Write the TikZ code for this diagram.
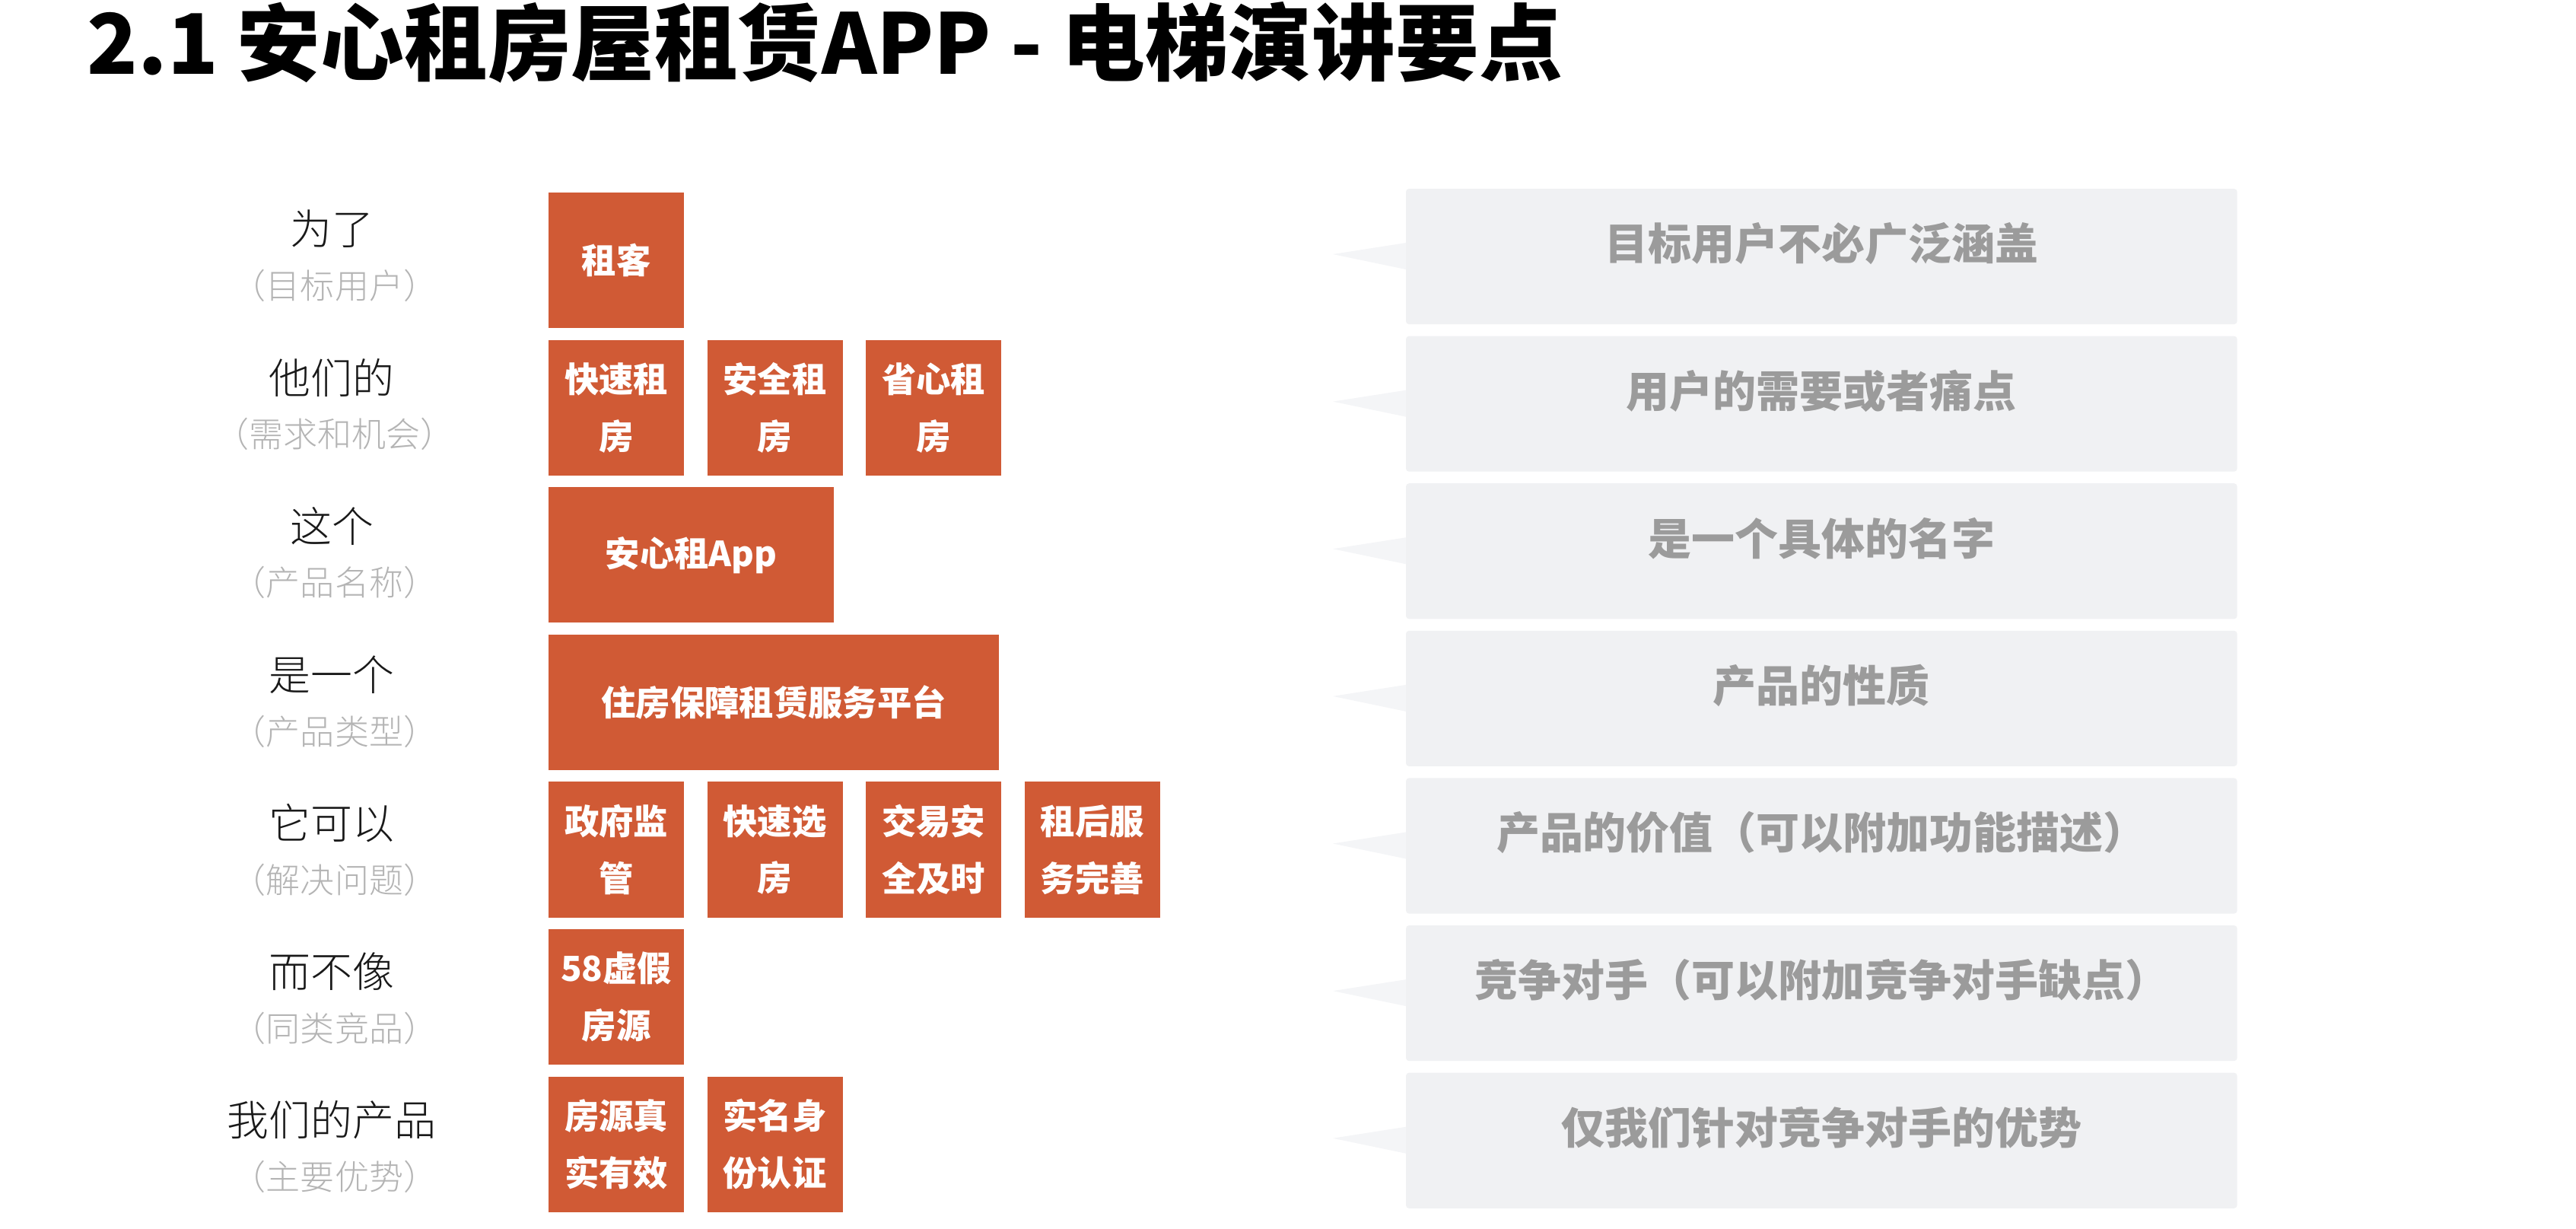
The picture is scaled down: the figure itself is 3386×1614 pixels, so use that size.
\documentclass[tikz,border=0pt]{standalone}
\usepackage{fontspec}
\setmainfont{Noto Sans CJK SC}
\newfontfamily\thincjk{Noto Sans CJK SC Light}
\usetikzlibrary{positioning, calc}
\definecolor{brick}{HTML}{D05A35}
\definecolor{panel}{HTML}{F0F1F3}
\definecolor{hint}{HTML}{9B9B9B}
\tikzstyle{tag} = [rectangle,
minimum width=1.78cm,
minimum height=1.78cm,
inner sep=0pt, outer sep=0pt,
text centered, align=center,
fill=brick, text=white,
font=\bfseries\fontsize{12.9pt}{21.3pt}\selectfont]
\tikzstyle{panelbox} = [rectangle, rounded corners=0.04cm,
minimum width=10.92cm,
minimum height=1.78cm,
inner sep=0pt, outer sep=0pt,
fill=panel]
\tikzstyle{note} = [text=hint, inner sep=0pt,
font=\bfseries\fontsize{16.2pt}{18pt}\selectfont]
\tikzstyle{cue} = [text=black!90, inner sep=0pt,
font=\thincjk\fontsize{15.6pt}{18pt}\selectfont]
\tikzstyle{subcue} = [text=hint!75, inner sep=0pt,
font=\thincjk\fontsize{12.8pt}{15pt}\selectfont]
\tikzstyle{pointer} = [fill=panel!70]

\begin{document}
\begin{tikzpicture}[x=0.01cm, y=-0.01cm]
    \useasboundingbox (0,0) rectangle (3386,1614);

    \node (title) [anchor=west, inner sep=0pt, font=\bfseries\fontsize{31.2pt}{35pt}\selectfont] at (114,56) {2.1 安心租房屋租赁APP - 电梯演讲要点};

    % row labels
    \node (q1) [cue] at (436,301) {为了};
    \node (s1) [subcue] at (440,375) {（目标用户）};
    \node (q2) [cue] at (436,496) {他们的};
    \node (s2) [subcue] at (440,570) {（需求和机会）};
    \node (q3) [cue] at (436,691) {这个};
    \node (s3) [subcue] at (440,765) {（产品名称）};
    \node (q4) [cue] at (436,887) {是一个};
    \node (s4) [subcue] at (440,961) {（产品类型）};
    \node (q5) [cue] at (436,1082) {它可以};
    \node (s5) [subcue] at (440,1156) {（解决问题）};
    \node (q6) [cue] at (436,1277) {而不像};
    \node (s6) [subcue] at (440,1351) {（同类竞品）};
    \node (q7) [cue] at (436,1472) {我们的产品};
    \node (s7) [subcue] at (440,1546) {（主要优势）};

    % orange tags
    \node (r1a) [tag, anchor=north west] at (721,253) {租客};
    \node (r2a) [tag, below=0.155cm of r1a.south west, anchor=north west] {快速租\\房};
    \node (r2b) [tag, right=0.305cm of r2a] {安全租\\房};
    \node (r2c) [tag, right=0.305cm of r2b] {省心租\\房};
    \node (r3a) [tag, below=0.155cm of r2a.south west, anchor=north west, minimum width=3.75cm] {安心租App};
    \node (r4a) [tag, below=0.155cm of r3a.south west, anchor=north west, minimum width=5.92cm] {住房保障租赁服务平台};
    \node (r5a) [tag, below=0.155cm of r4a.south west, anchor=north west] {政府监\\管};
    \node (r5b) [tag, right=0.305cm of r5a] {快速选\\房};
    \node (r5c) [tag, right=0.305cm of r5b] {交易安\\全及时};
    \node (r5d) [tag, right=0.305cm of r5c] {租后服\\务完善};
    \node (r6a) [tag, below=0.155cm of r5a.south west, anchor=north west] {58虚假\\房源};
    \node (r7a) [tag, below=0.155cm of r6a.south west, anchor=north west] {房源真\\实有效};
    \node (r7b) [tag, right=0.305cm of r7a] {实名身\\份认证};

    % grey panels
    \node (g1) [panelbox, anchor=north west] at (1848,248) {};
    \node (g2) [panelbox, below=0.155cm of g1] {};
    \node (g3) [panelbox, below=0.155cm of g2] {};
    \node (g4) [panelbox, below=0.155cm of g3] {};
    \node (g5) [panelbox, below=0.155cm of g4] {};
    \node (g6) [panelbox, below=0.155cm of g5] {};
    \node (g7) [panelbox, below=0.155cm of g6] {};

    \foreach \g in {g1,g2,g3,g4,g5,g6,g7}
        \fill [pointer] ([shift={(-96,-3)}]\g.west) -- ([shift={(0,-18)}]\g.west) -- ([shift={(0,17)}]\g.west) -- cycle;

    \node (t1) [note] at ($(g1.center)+(0,-17)$) {目标用户不必广泛涵盖};
    \node (t2) [note] at ($(g2.center)+(0,-17)$) {用户的需要或者痛点};
    \node (t3) [note] at ($(g3.center)+(0,-17)$) {是一个具体的名字};
    \node (t4) [note] at ($(g4.center)+(0,-17)$) {产品的性质};
    \node (t5) [note] at ($(g5.center)+(0,-17)$) {产品的价值（可以附加功能描述）};
    \node (t6) [note] at ($(g6.center)+(0,-17)$) {竞争对手（可以附加竞争对手缺点）};
    \node (t7) [note] at ($(g7.center)+(0,-17)$) {仅我们针对竞争对手的优势};

\end{tikzpicture}
\end{document}
